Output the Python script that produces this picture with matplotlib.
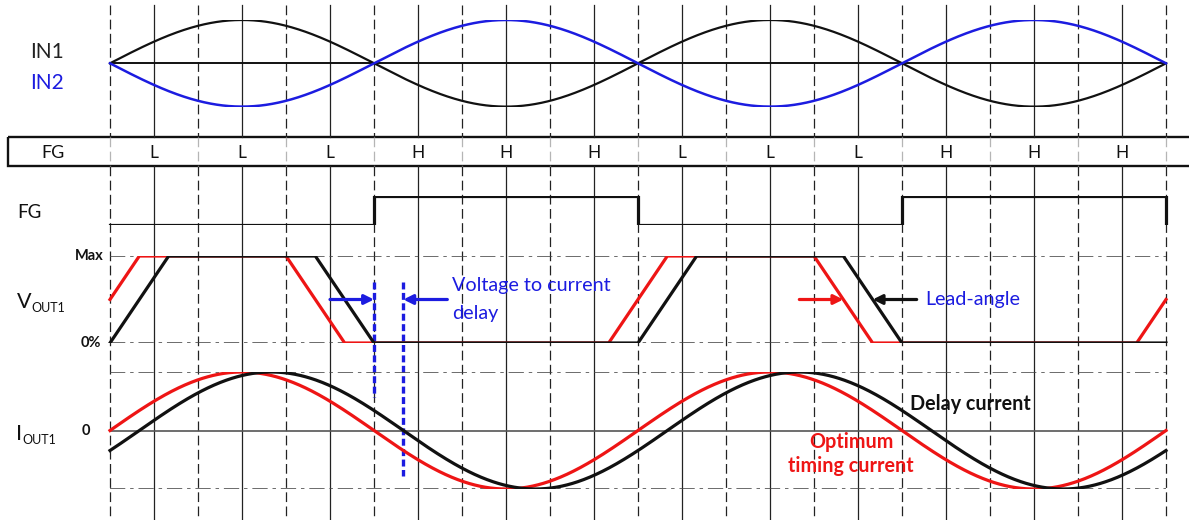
import numpy as np
import matplotlib
matplotlib.use("Agg")
import matplotlib.pyplot as plt
from matplotlib.patches import Rectangle

plt.rcParams["font.family"] = ["Lato", "DejaVu Sans"]
plt.rcParams["lines.scale_dashes"] = False

# ---- signal description (time in grid divisions) ----
n_div = 12                      # dashed-to-dashed divisions along the time axis
hall_period = 6.0               # one electrical cycle = six divisions
fg_edges = [0, 3, 6, 9, 12]
fg_levels = [0, 1, 0, 1, 0]
fg_states = ["L", "L", "L", "H", "H", "H", "L", "L", "L", "H", "H", "H"]

# trapezoidal output voltage (0 = 0 %, 1 = Max)
vout_opt_t = [0, 1/3, 2, 8/3, 17/3, 19/3, 8, 26/3, 35/3, 12]
vout_opt_v = [0.5, 1, 1, 0, 0, 1, 1, 0, 0, 0.5]
vout_del_t = [0, 2/3, 7/3, 3, 6, 20/3, 25/3, 9, 12]
vout_del_v = [0, 1, 1, 0, 0, 1, 1, 0, 0]

current_delay = 1/3             # lag of the coil current behind the voltage
lead_level = 0.5                # Vout level where the lead-angle arrows point

BLACK = "#111111"
BLUE = "#1c1ce0"
RED = "#ee1515"
GRID = "#222222"
DASHDOT = "#444444"

W, H = 1189, 520
X0_PX, UNIT_PX = 110, 88
xlim = (-X0_PX / UNIT_PX, (W - X0_PX) / UNIT_PX)

fig = plt.figure(figsize=(W / 100, H / 100), dpi=100)


def band(top, bot, lo, hi):
    ax = fig.add_axes([0, 1 - bot / H, 1, (bot - top) / H])
    ax.set_xlim(*xlim)
    ax.set_ylim(lo, hi)
    ax.axis("off")
    ax.patch.set_alpha(0)
    return ax


# ---- background grid and FG state bar ----
grid = fig.add_axes([0, 0, 1, 1])
grid.set_xlim(*xlim)
grid.set_ylim(H, 0)
grid.axis("off")

BAR_TOP, BAR_BOT = 137, 166
vdash = (0, (7, 3.2))
for k in range(n_div + 1):
    grid.plot([k, k], [5, BAR_TOP], color=GRID, lw=0.9, ls=vdash)
    grid.plot([k, k], [BAR_BOT, H], color=GRID, lw=0.9, ls=vdash)
    grid.plot([k, k], [BAR_TOP, BAR_BOT], color="#b5b5b5", lw=0.9, ls=vdash)
for k in range(n_div):
    xm = k + 0.5
    grid.plot([xm, xm], [5, BAR_TOP], color=GRID, lw=0.9)
    grid.plot([xm, xm], [BAR_BOT, H], color=GRID, lw=0.9)

bar_left = (8 - X0_PX) / UNIT_PX
grid.add_patch(Rectangle((bar_left, BAR_TOP), xlim[1] + 1 - bar_left,
                         BAR_BOT - BAR_TOP, fill=False, ec=BLACK, lw=1.7))
grid.text((53 - X0_PX) / UNIT_PX, 152.5, "FG", ha="center", va="center",
          fontsize=13, color=BLACK)
for k, s in enumerate(fg_states):
    grid.text(k + 0.5, 152.5, s, ha="center", va="center", fontsize=12.5,
              color=BLACK)

t = np.linspace(0, n_div, 1200)

# ---- Hall inputs ----
ax_in = band(20, 106.6, -1, 1)
in1 = np.sin(2 * np.pi * t / hall_period)
ax_in.plot([0, n_div], [0, 0], color=BLACK, lw=1.4)
ax_in.plot(t, in1, color=BLACK, lw=1.6)
ax_in.plot(t, -in1, color=BLUE, lw=1.8)

# ---- FG output ----
ax_fg = band(196, 225, 0, 1)
ax_fg.plot(fg_edges, fg_levels, drawstyle="steps-post", color=BLACK, lw=2.3,
           solid_joinstyle="miter")

# ---- output voltage ----
ddot = (0, (11, 3.5, 2.5, 3.5))
ax_v = band(256, 343, 0, 1)
for lvl in (0, 1):
    ax_v.plot([0, n_div], [lvl, lvl], color=DASHDOT, lw=1.1, ls=ddot)
ax_v.plot(vout_opt_t, vout_opt_v, color=RED, lw=2.3)
ax_v.plot(vout_del_t, vout_del_v, color=BLACK, lw=2.3)

# voltage-to-current delay marker
edge = vout_del_t[3]
grid.plot([edge, edge], [282, 397], color=BLUE, lw=2.4, ls=(0, (5, 2.5)))
grid.plot([edge + current_delay] * 2, [282, 476], color=BLUE, lw=2.4,
          ls=(0, (5, 2.5)))
arrow_kw = dict(arrowstyle="-|>", mutation_scale=14, lw=2.3,
                shrinkA=0, shrinkB=0)
ax_v.annotate("", xy=(edge, lead_level), xytext=(edge - 0.5, lead_level),
              arrowprops=dict(color=BLUE, **arrow_kw))
ax_v.annotate("", xy=(edge + current_delay, lead_level),
              xytext=(edge + current_delay + 0.5, lead_level),
              arrowprops=dict(color=BLUE, **arrow_kw))
grid.text((452 - X0_PX) / UNIT_PX, 286, "Voltage to current", ha="left",
          va="center", fontsize=14.2, color=BLUE)
grid.text((452 - X0_PX) / UNIT_PX, 313, "delay", ha="left", va="center",
          fontsize=14.2, color=BLUE)

# lead-angle arrows on the falling edges
red_mid = vout_opt_t[6] + (vout_opt_t[7] - vout_opt_t[6]) * (1 - lead_level)
blk_mid = vout_del_t[6] + (vout_del_t[7] - vout_del_t[6]) * (1 - lead_level)
ax_v.annotate("", xy=(red_mid, lead_level),
              xytext=(red_mid - 0.5, lead_level),
              arrowprops=dict(color=RED, **arrow_kw))
ax_v.annotate("", xy=(blk_mid, lead_level),
              xytext=(blk_mid + 0.5, lead_level),
              arrowprops=dict(color=BLACK, **arrow_kw))
grid.text((925 - X0_PX) / UNIT_PX, 300, "Lead-angle", ha="left",
          va="center", fontsize=14.2, color=BLUE)

# ---- output current ----
ax_i = band(372, 489, -1, 1)
for lvl in (-1, 1):
    ax_i.plot([0, n_div], [lvl, lvl], color=DASHDOT, lw=1.1, ls=ddot)
ax_i.plot([0, n_div], [0, 0], color="#555555", lw=1.2)
i_opt = np.sin(2 * np.pi * t / hall_period)
i_del = np.sin(2 * np.pi * (t - current_delay) / hall_period)
ax_i.plot(t, i_opt, color=RED, lw=2.3)
ax_i.plot(t, i_del, color=BLACK, lw=2.3)
grid.text((910 - X0_PX) / UNIT_PX, 404, "Delay current", ha="left",
          va="center", fontsize=14.2, fontweight="bold", color=BLACK)
grid.text((851 - X0_PX) / UNIT_PX, 441.5, "Optimum", ha="center",
          va="center", fontsize=14.2, fontweight="bold", color=RED)
grid.text((851 - X0_PX) / UNIT_PX, 466.5, "timing current", ha="center",
          va="center", fontsize=14.2, fontweight="bold", color=RED)

# ---- row labels ----
lab = fig.add_axes([0, 0, 1, 1])
lab.set_xlim(0, W)
lab.set_ylim(H, 0)
lab.axis("off")
lab.patch.set_alpha(0)
lab.text(30, 52, "IN1", ha="left", va="center", fontsize=15, color="#222222")
lab.text(30, 83, "IN2", ha="left", va="center", fontsize=15, color=BLUE)
lab.text(17, 213, "FG", ha="left", va="center", fontsize=13.5, color=BLACK)
lab.text(104, 256, "Max", ha="right", va="center", fontsize=10.5,
         fontweight="bold", color=BLACK)
lab.text(101, 343, "0%", ha="right", va="center", fontsize=10.5,
         fontweight="bold", color=BLACK)
# V_OUT1 and I_OUT1 with small-caps style subscripts
lab.text(16.5, 308, "V", ha="left", va="baseline", fontsize=15.5, color=BLACK)
lab.text(31.5, 312.5, "OUT1", ha="left", va="baseline", fontsize=9,
         color=BLACK)
lab.text(16.5, 440, "I", ha="left", va="baseline", fontsize=15.5, color=BLACK)
lab.text(22.5, 443.5, "OUT1", ha="left", va="baseline", fontsize=9,
         color=BLACK)
lab.text(90, 431, "0", ha="right", va="center", fontsize=10.5,
         fontweight="bold", color=BLACK)

fig.savefig("out.png", dpi=100)
